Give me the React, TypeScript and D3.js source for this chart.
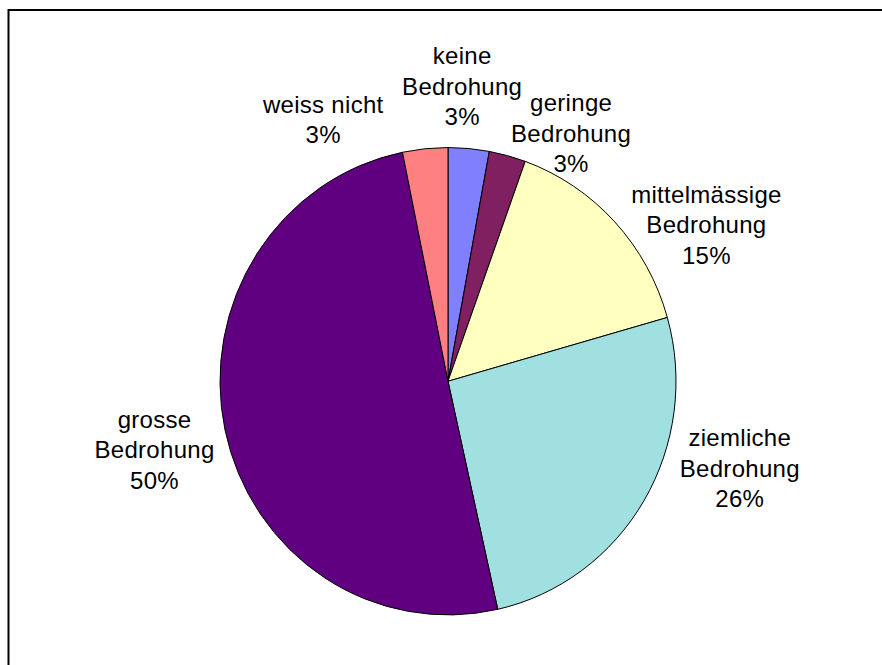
import React from "react";
import * as d3 from "d3";

// ---- data ----
const categories = [
  "keine Bedrohung",
  "geringe Bedrohung",
  "mittelmässige Bedrohung",
  "ziemliche Bedrohung",
  "grosse Bedrohung",
  "weiss nicht",
];
const labelLines = [
  ["keine", "Bedrohung"],
  ["geringe", "Bedrohung"],
  ["mittelmässige", "Bedrohung"],
  ["ziemliche", "Bedrohung"],
  ["grosse", "Bedrohung"],
  ["weiss nicht"],
];
const values = [2.9, 2.6, 15.1, 25.9, 50.3, 3.2];
const colors = ["#8080FF", "#802060", "#FFFFC0", "#A0E0E0", "#600080", "#FF8080"];

// ---- layout (label placement relative to each slice's mid-angle) ----
const labelAngleShiftDeg = [-2.4, 11.9, 12.5, -14.5, -0.8, -20.3];
const labelDistance = [288, 271, 300, 304, 301, 284];

const W = 882;
const H = 665;
const CX = 448;
const CY = 381.25;
const R = 228;
const SY = 1.025;
const FS = 24;
const LH = 30.5;

export default function App() {
  const total = d3.sum(values);
  const pie = d3
    .pie<number>()
    .sort(null)
    .value((d) => d)
    .startAngle(0)
    .endAngle(2 * Math.PI);
  const arcs = pie(values);
  const arc = d3.arc<d3.PieArcDatum<number>>().innerRadius(0).outerRadius(R);

  return (
    <svg
      width={W}
      height={H}
      style={{ position: "absolute", left: 0, top: 0, background: "#fff" }}
      fontFamily="'Liberation Sans', Arial, sans-serif"
    >
      <rect x={8.5} y={10} width={1000} height={1000} fill="#fff" stroke="#000" strokeWidth={2} />
      <g transform={`translate(${CX},${CY}) scale(1,${SY})`}>
        {arcs.map((a, i) => (
          <path
            key={categories[i]}
            d={arc(a) || ""}
            fill={colors[i]}
            stroke="#000"
            strokeWidth={1}
            vectorEffect="non-scaling-stroke"
          />
        ))}
      </g>
      {arcs.map((a, i) => {
        const mid = (a.startAngle + a.endAngle) / 2 + (labelAngleShiftDeg[i] * Math.PI) / 180;
        const d = labelDistance[i];
        const x = CX + d * Math.sin(mid);
        const y = CY - d * Math.cos(mid) * SY;
        const lines = [...labelLines[i], `${Math.round((values[i] / total) * 100)}%`];
        const n = lines.length;
        return (
          <text
            key={categories[i]}
            x={x}
            textAnchor="middle"
            fontSize={FS}
            letterSpacing={0.3}
            fill="#000"
          >
            {lines.map((t, j) => (
              <tspan key={j} x={x} y={y + (j - (n - 1) / 2) * LH + 0.34 * FS}>
                {t}
              </tspan>
            ))}
          </text>
        );
      })}
    </svg>
  );
}
